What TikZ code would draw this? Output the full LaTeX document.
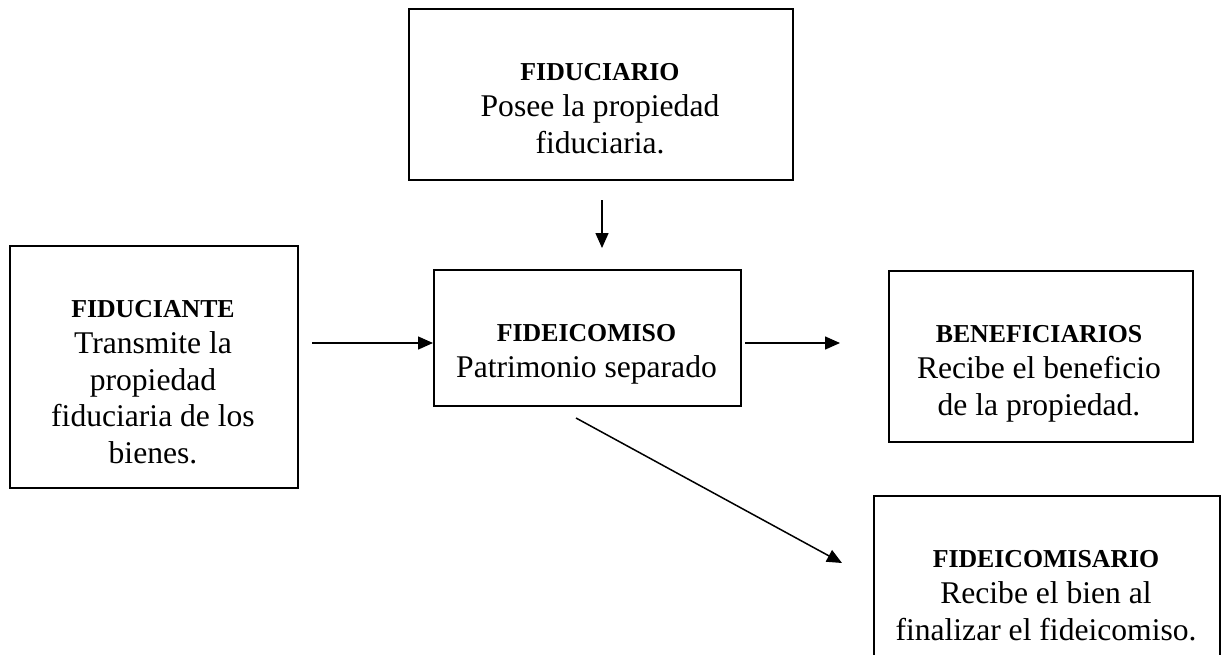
\documentclass[tikz,border=0pt]{standalone}
\usepackage{fontspec}
\setmainfont{Liberation Serif}
\usetikzlibrary{arrows.meta,calc}
\tikzset{
  box/.style={draw=black, line width=1pt, rectangle, inner sep=0pt, anchor=north west},
  arr/.style={line width=0.75pt, -{Triangle[length=7.5pt,width=6.5pt]}},
  txt/.style={anchor=base, inner sep=0pt},
}
\newcommand{\ttl}[1]{{\fontsize{12.9}{18.25}\selectfont\bfseries #1}}
\newcommand{\boxtext}[1]{\parbox[t]{200pt}{\centering\fontsize{15.8}{18.25}\selectfont #1}}
\begin{document}
\begin{tikzpicture}[x=0.5pt,y=-0.5pt]
\useasboundingbox (0,0) rectangle (1224,654);
\clip (0,0) rectangle (1224,654);
% boxes
\node[box, minimum width=192pt, minimum height=85.5pt] (fiduciario) at (408,8) {};
\node[box, minimum width=144pt, minimum height=121pt] (fiduciante) at (9,245) {};
\node[box, minimum width=153.5pt, minimum height=68pt] (fideicomiso) at (433,269) {};
\node[box, minimum width=152pt, minimum height=85.5pt] (beneficiarios) at (888,270) {};
\node[box, minimum width=173pt, minimum height=85pt] (fideicomisario) at (873,495) {};
% texts
\node[txt] (tfiduciario) at (600,80) {\boxtext{\ttl{FIDUCIARIO}\\Posee la propiedad\\fiduciaria.}};
\node[txt] (tfiduciante) at (153,317) {\boxtext{\ttl{FIDUCIANTE}\\Transmite la\\propiedad\\fiduciaria de los\\bienes.}};
\node[txt] (tfideicomiso) at (586.5,341) {\boxtext{\ttl{FIDEICOMISO}\\Patrimonio separado}};
\node[txt] (tbeneficiarios) at (1039,342) {\boxtext{\ttl{BENEFICIARIOS}\\Recibe el beneficio\\de la propiedad.}};
\node[txt] (tfideicomisario) at (1046,567) {\boxtext{\ttl{FIDEICOMISARIO}\\Recibe el bien al\\finalizar el fideicomiso.}};
% arrows
\coordinate (a1s) at (312,343);
\coordinate (a2s) at (745,343);
\coordinate (a2e) at (840,343);
\coordinate (a3s) at (602,200);
\coordinate (a3e) at (602,248);
\coordinate (a4s) at (576,418);
\coordinate (a4e) at (842,563);
\draw[arr] (a1s) -- (a1s -| fideicomiso.west);
\draw[arr] (a2s) -- (a2e);
\draw[arr] (a3s) -- (a3e);
\draw[arr] (a4s) -- (a4e);
\end{tikzpicture}
\end{document}
